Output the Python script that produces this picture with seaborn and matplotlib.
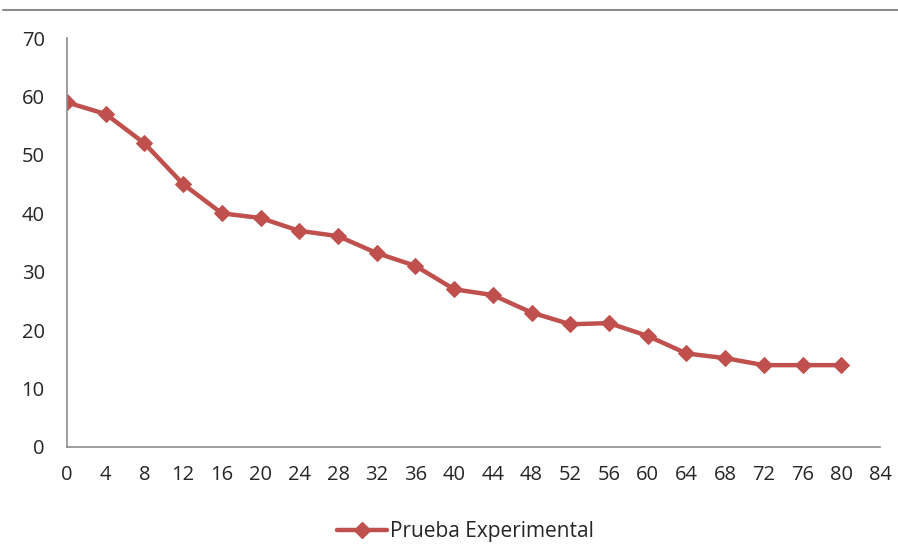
import matplotlib
matplotlib.use("Agg")
import matplotlib.pyplot as plt
import seaborn as sns
import pandas as pd
from matplotlib.lines import Line2D

# Data
x_values = [0, 4, 8, 12, 16, 20, 24, 28, 32, 36, 40, 44, 48, 52, 56, 60, 64, 68, 72, 76, 80]
y_values = [59, 57, 52, 45, 40, 39.2, 37, 36.1, 33.2, 31, 27, 26, 23, 21, 21.2, 19, 16, 15.2, 14, 14, 14]
series_name = "Prueba Experimental"
x_ticks = list(range(0, 85, 4))
y_ticks = list(range(0, 71, 10))

df = pd.DataFrame({"x": x_values, "y": y_values, "serie": series_name})

sns.set_theme(style="white")
plt.rcParams["font.family"] = ["Open Sans", "DejaVu Sans"]

color = "#C0504D"
fig = plt.figure(figsize=(8.98, 5.45), dpi=100)
ax = fig.add_axes([0.0746, 0.180, 0.9054, 0.750])

sns.lineplot(data=df, x="x", y="y", ax=ax, color=color, linewidth=3.2,
             marker="D", markersize=8, markeredgecolor=color, legend=False)

ax.set_xlim(0, 84)
ax.set_ylim(0, 70)
ax.set_xticks(x_ticks)
ax.set_yticks(y_ticks)
ax.set_xlabel("")
ax.set_ylabel("")
ax.tick_params(axis="both", length=0, labelsize=14.5, colors="#262626")
ax.tick_params(axis="x", pad=13)
ax.tick_params(axis="y", pad=16)
for s in ["top", "right"]:
    ax.spines[s].set_visible(False)
for s in ["left", "bottom"]:
    ax.spines[s].set_color("#8c8c8c")
    ax.spines[s].set_linewidth(1.2)
ax.grid(False)

# top border line of the figure
fig.add_artist(Line2D([0.003, 1.0], [0.982, 0.982], transform=fig.transFigure,
                      color="#8c8c8c", linewidth=1.5))

handle = Line2D([], [], color=color, linewidth=3.2, marker="D", markersize=8)
fig.legend([handle], [series_name], loc="center", bbox_to_anchor=(0.518, 0.024),
           frameon=False, fontsize=15, handlelength=2.4, handletextpad=0.15,
           borderpad=0.2)

fig.savefig("out.png", dpi=100)
